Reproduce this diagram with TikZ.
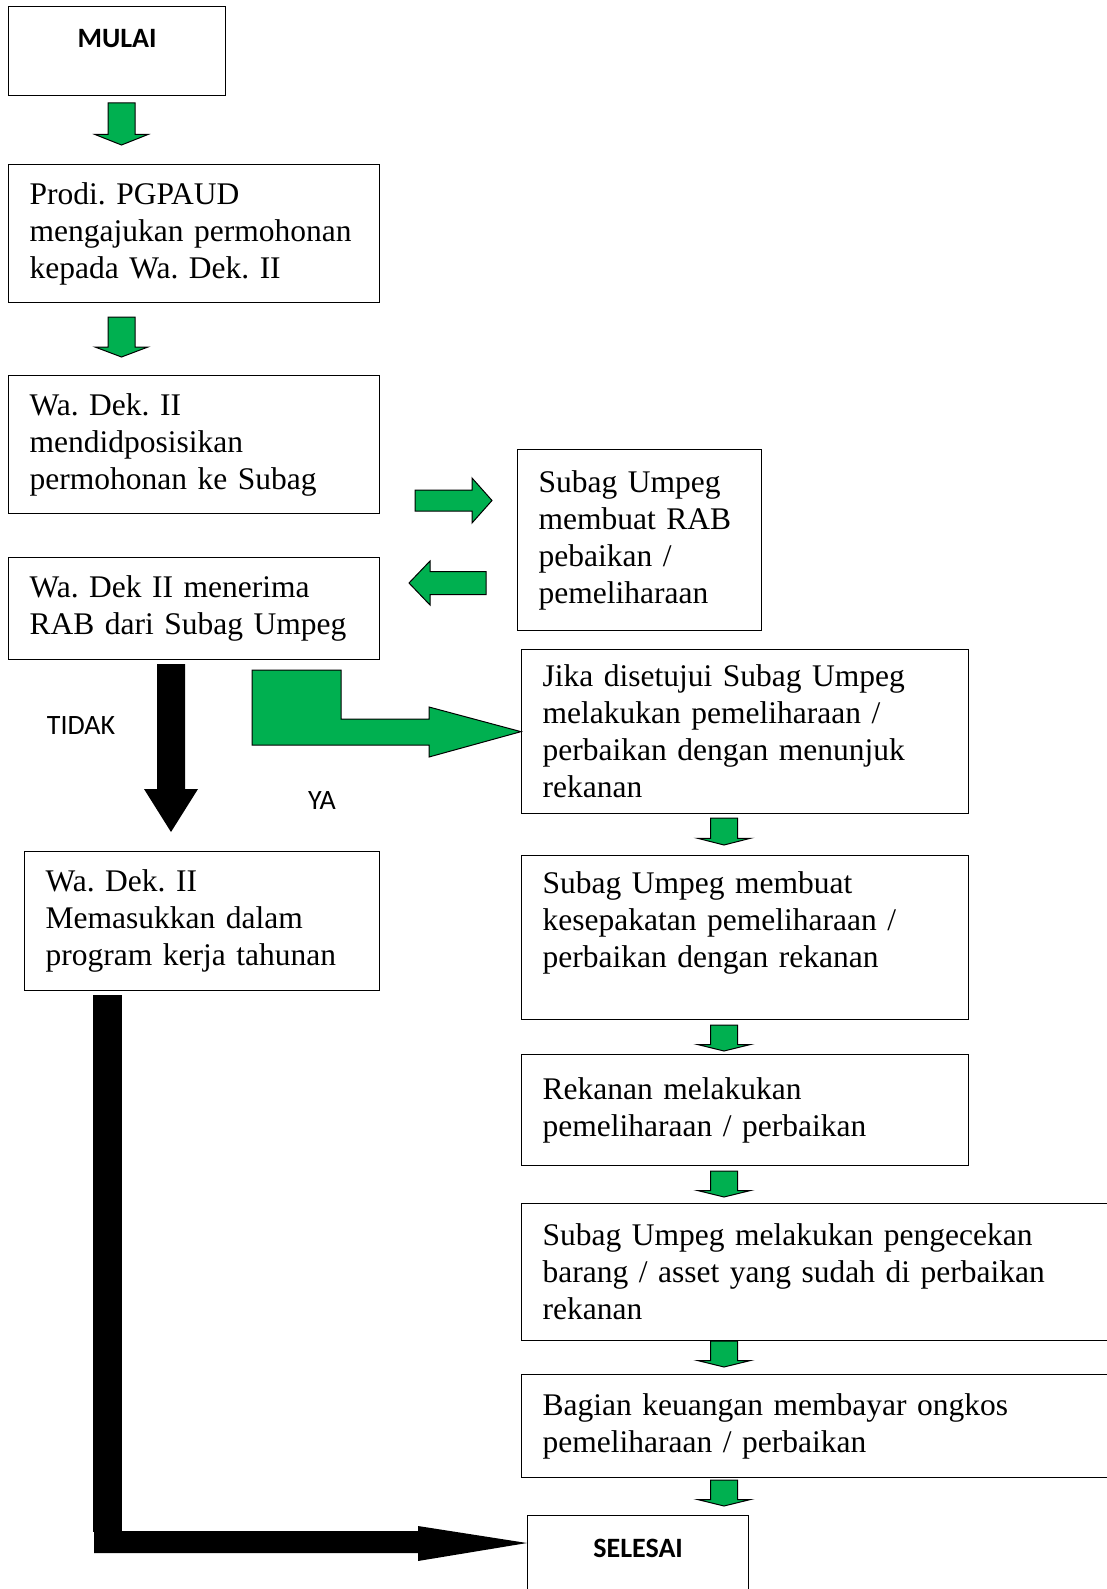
\documentclass[tikz,border=0pt]{standalone}
\usepackage{fontspec}
\setmainfont{Liberation Serif}
\newfontfamily\calibri{Carlito}
\frenchspacing
\definecolor{ggreen}{RGB}{0,176,80}
\tikzstyle{startstop} = [rectangle, draw=black, line width=1.3pt, anchor=north west,
inner sep=0pt, text centered, font=\calibri\bfseries\fontsize{28}{34}\selectfont]
\tikzstyle{process} = [rectangle, draw=black, line width=1.3pt, anchor=north west,
align=left, inner xsep=21pt, inner ysep=0pt, font=\fontsize{31.5}{37}\selectfont]
\tikzstyle{answer} = [font=\calibri\fontsize{28}{34}\selectfont]
\tikzstyle{garrow} = [fill=ggreen, draw=black, line width=1pt]
\tikzstyle{barrow} = [fill=black]
\tikzset{gdown/.pic={\draw[garrow] (-13.5,0) -- (13.5,0) -- (13.5,0.75*#1) -- (26.5,0.75*#1)
-- (0,#1) -- (-26.5,0.75*#1) -- (-13.5,0.75*#1) -- cycle;}}

\begin{document}
\begin{tikzpicture}[x=1pt, y=-1pt]
    \useasboundingbox (0,0) rectangle (1107,1589);
    \node (mulai) [startstop, minimum width=217pt, text height=41pt, text depth=48pt] at (8,6) {MULAI};
    \node (prodi) [process, text width=329pt, minimum height=138pt] at (8,164) {Prodi. PGPAUD\\mengajukan permohonan\\kepada Wa. Dek. II};
    \node (wadek) [process, text width=329pt, minimum height=138pt] at (8,375) {Wa. Dek. II\\mendidposisikan\\permohonan ke Subag};
    \node (rab) [process, text width=202pt, minimum height=181pt] at (517,449) {Subag Umpeg\\membuat RAB\\pebaikan /\\pemeliharaan};
    \node (terima) [process, text width=329pt, minimum height=102pt] at (8,557) {Wa. Dek II menerima\\RAB dari Subag Umpeg};
    \node (jika) [process, text width=405pt, minimum height=164pt] at (521,649) {Jika disetujui Subag Umpeg\\melakukan pemeliharaan /\\perbaikan dengan menunjuk\\rekanan};
    \node (masuk) [process, text width=313pt, minimum height=139pt] at (24,851) {Wa. Dek. II\\Memasukkan dalam\\program kerja tahunan};
    \node (sepakat) [process, text width=405pt, minimum height=164pt] at (521,855) {Subag Umpeg membuat\\kesepakatan pemeliharaan /\\perbaikan dengan rekanan\\\mbox{}};
    \node (rekanan) [process, text width=405pt, minimum height=111pt] at (521,1054) {Rekanan melakukan\\pemeliharaan / perbaikan};
    \node (cek) [process, text width=578pt, minimum height=137pt] at (521,1203) {Subag Umpeg melakukan pengecekan\\barang / asset yang sudah di perbaikan\\rekanan};
    \node (bayar) [process, text width=578pt, minimum height=103pt] at (521,1374) {Bagian keuangan membayar ongkos\\pemeliharaan / perbaikan};
    \node (selesai) [startstop, minimum width=221pt, text height=42pt, text depth=60pt] at (527,1515) {SELESAI};
    \node (tidak) [answer] at (81,726) {TIDAK};
    \node (ya) [answer] at (322,801) {YA};

    % block arrows
    \pic at (121.5,103) {gdown=42};
    \pic at (121.5,317) {gdown=40};
    \pic at (724,818) {gdown=27};
    \pic at (724,1025) {gdown=26};
    \pic at (724,1171) {gdown=26};
    \pic at (724,1341) {gdown=26};
    \pic at (724,1480) {gdown=26};
    \draw[garrow] (415,490) -- (472,490) -- (472,478) -- (492,500.5) -- (472,523) -- (472,511) -- (415,511) -- cycle;
    \draw[garrow] (486,571.5) -- (430,571.5) -- (430,561) -- (409,583) -- (430,605) -- (430,594.5) -- (486,594.5) -- cycle;
    \fill[barrow] (157,664) -- (185,664) -- (185,789) -- (198,789) -- (171,832) -- (144,789) -- (157,789) -- cycle;
    \draw[garrow] (252,670) -- (341,670) -- (341,719) -- (429,719) -- (429,707) -- (jika.west)
        -- (429,757) -- (429,745) -- (252,745) -- cycle;
    \fill[barrow] (93,995) rectangle (122,1532);
    \fill[barrow] (94,1531) -- (418,1531) -- (418,1526) -- ([yshift=-28pt]selesai.north west)
        -- (418,1561) -- (418,1553) -- (94,1553) -- cycle;
\end{tikzpicture}
\end{document}
